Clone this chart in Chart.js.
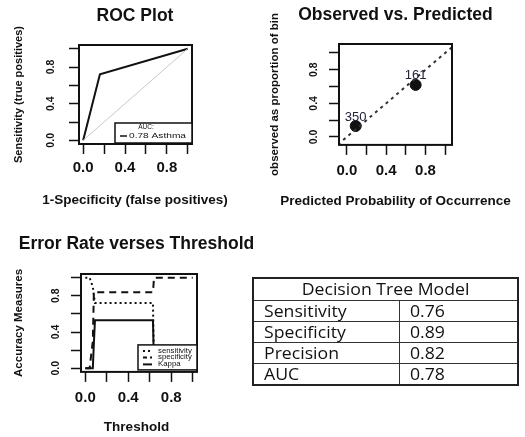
<!DOCTYPE html>
<html><head><meta charset="utf-8">
<script src="https://cdn.jsdelivr.net/npm/chart.js@4.4.1/dist/chart.umd.min.js"></script>
<style>
html,body{margin:0;padding:0;background:#fff;overflow:hidden;width:525px;height:437px}
.pane{position:absolute}
.pane canvas{display:block}
#tbl{position:absolute;left:252px;top:277px;width:267px;border-collapse:collapse;font-family:'Open Sans',sans-serif;font-size:15.5px;color:#111;border:2px solid #222}
#tbl td{border:1.5px solid #333;padding:0 0 0 10px;height:20px;line-height:19px;white-space:nowrap}
#tbl td.h{text-align:center;padding:0;height:21px}
#tbl td span{display:inline-block;transform:scaleX(1.14);transform-origin:left center}
#tbl td.h span{transform-origin:center center}
</style></head><body>
<div class="pane" style="left:0;top:0"><canvas id="roc" width="270" height="215"></canvas></div>
<div class="pane" style="left:266px;top:0"><canvas id="ovp" width="259" height="215"></canvas></div>
<div class="pane" style="left:0;top:225px"><canvas id="err" width="273" height="212"></canvas></div>
<table id="tbl"></table>
<script>
// ---- data ----
const axisTicks = [0, 0.2, 0.4, 0.6, 0.8, 1.0];
const axisTickLabels = ['0.0', '', '0.4', '', '0.8', ''];

const rocFpr = [0, 0.16, 1];
const rocTpr = [0, 0.72, 1];
const chanceFpr = [0, 1];
const chanceTpr = [0, 1];
const rocLegendTitle = 'AUC:';
const rocLegendLabel = '0.78 Asthma';

const predicted = [0.09, 0.70];
const observed = [0.13, 0.62];
const observedLow = [0.10, 0.57];
const observedHigh = [0.16, 0.67];
const binCounts = ['350', '161'];
const identityX = [-0.2, 1.2];
const identityY = [-0.2, 1.2];

const thresholds  = [0.00, 0.04, 0.07, 0.08, 0.09, 0.63, 0.64, 1.00];
const sensitivity = [1.00, 1.00, 0.90, 0.80, 0.72, 0.72, 0.00, 0.00];
const specificity = [0.00, 0.00, 0.30, 0.84, 0.84, 0.84, 1.00, 1.00];
const kappa       = [0.00, 0.00, 0.00, 0.28, 0.53, 0.53, 0.00, 0.00];
const errLegendLabels = ['sensitivity', 'specificity', 'Kappa'];

const tableTitle = 'Decision Tree Model';
const metricNames = ['Sensitivity', 'Specificity', 'Precision', 'AUC'];
const metricValues = ['0.76', '0.89', '0.82', '0.78'];

// ---- helpers ----
const FAM = "'Liberation Sans', Arial, sans-serif";
const INK = '#111';
Chart.defaults.font.family = FAM;
Chart.defaults.color = INK;

function pts(xs, ys) { return xs.map((x, i) => ({x: x, y: ys[i]})); }

function makeScales(c) {
  return {
    x: {
      type: 'linear', min: c.xMin, max: c.xMax,
      afterBuildTicks: s => { s.ticks = axisTicks.map(v => ({value: v})); },
      afterFit: s => { s.height = c.xH; },
      border: {display: false},
      grid: {drawOnChartArea: false, drawTicks: true, tickLength: 10, tickWidth: 1.5, tickColor: INK},
      ticks: {autoSkip: false, minRotation: 0, maxRotation: 0, padding: c.xTickPad, color: INK,
              font: {family: FAM, size: 15, weight: 'bold'}, callback: (v, i) => axisTickLabels[i]},
      title: {display: false}
    },
    y: {
      type: 'linear', min: c.yMin, max: c.yMax,
      afterBuildTicks: s => { s.ticks = axisTicks.map(v => ({value: v})); },
      afterFit: s => { s.width = c.yW; },
      border: {display: false},
      grid: {drawOnChartArea: false, drawTicks: true, tickLength: 10, tickWidth: 1.5, tickColor: INK},
      ticks: {autoSkip: false, minRotation: 90, maxRotation: 90, crossAlign: 'center', padding: c.yTickPad, color: INK,
              font: {family: FAM, size: 10.5, weight: 'bold'}, callback: (v, i) => axisTickLabels[i]},
      title: {display: true, text: c.yTitle, color: INK, font: {family: FAM, size: c.yTitleSize, weight: 'bold'},
              padding: {top: c.yTitlePad, bottom: 0}}
    },
    pad: {
      type: 'linear', position: 'right', display: true,
      afterFit: s => { s.width = c.padR; },
      border: {display: false}, grid: {display: false, drawTicks: false}, ticks: {display: false}
    }
  };
}

function titleOpts(text, top, bottom) {
  return {display: true, text: text, color: INK, font: {family: FAM, size: 17.5, weight: 'bold', lineHeight: 1.2},
          padding: {top: top, bottom: bottom}};
}
function xTitleOpts(text, bottom) {
  return {display: true, position: 'bottom', text: text, color: INK,
          font: {family: FAM, size: 13.5, weight: 'bold', lineHeight: 1.2}, padding: {top: 0, bottom: bottom}};
}

const rBox = {
  id: 'rBox',
  afterDatasetsDraw(chart) {
    const {ctx, chartArea: a} = chart;
    ctx.save();
    ctx.strokeStyle = INK; ctx.lineWidth = 2;
    ctx.strokeRect(a.left, a.top, a.right - a.left, a.bottom - a.top);
    ctx.restore();
  }
};

const rLegend = {
  id: 'rLegend',
  afterDraw(chart, args, o) {
    if (!o || !o.items) return;
    const {ctx, chartArea: a} = chart;
    ctx.save();
    ctx.beginPath(); ctx.rect(a.left, a.top, a.right - a.left + 1, a.bottom - a.top + 1); ctx.clip();
    const r = a.right - o.insetRight, b = a.bottom - o.insetBottom, l = r - o.w, t = b - o.h;
    ctx.fillStyle = '#fff'; ctx.fillRect(l, t, o.w, o.h);
    ctx.lineWidth = 1.5; ctx.strokeStyle = INK; ctx.strokeRect(l, t, o.w, o.h);
    ctx.fillStyle = INK; ctx.textBaseline = 'middle';
    if (o.title) {
      ctx.font = o.titleSize + 'px ' + FAM; ctx.textAlign = 'center';
      ctx.fillText(o.title, l + o.titleX, t + o.titleY);
    }
    ctx.font = o.fontSize + 'px ' + FAM;
    o.items.forEach((it, i) => {
      const y = t + o.rowY[i];
      ctx.setLineDash(it.dash || []); ctx.lineWidth = it.width;
      ctx.beginPath(); ctx.moveTo(l + o.lineX0, y); ctx.lineTo(l + o.lineX1, y); ctx.stroke();
      ctx.setLineDash([]);
      ctx.save();
      ctx.translate(l + o.textX, y); ctx.scale(o.stretch, 1);
      ctx.textAlign = 'left'; ctx.fillText(it.label, 0, 0);
      ctx.restore();
    });
    ctx.restore();
  }
};

const countLabels = {
  id: 'countLabels',
  afterDatasetsDraw(chart) {
    const ctx = chart.ctx;
    const meta = chart.getDatasetMeta(2);
    ctx.save();
    ctx.font = '13px ' + FAM; ctx.fillStyle = '#22223a'; ctx.textAlign = 'center'; ctx.textBaseline = 'middle';
    meta.data.forEach((el, i) => { ctx.fillText(binCounts[i], el.x, el.y - 9); });
    ctx.restore();
  }
};

const base = {responsive: false, animation: false, devicePixelRatio: 1, layout: {padding: 0}};

// ---- ROC ----
new Chart(document.getElementById('roc'), {
  type: 'scatter',
  data: {datasets: [
    {data: pts(chanceFpr, chanceTpr), showLine: true, borderColor: '#c8c8c8', borderWidth: 1, pointRadius: 0},
    {data: pts(rocFpr, rocTpr), showLine: true, borderColor: INK, borderWidth: 2, pointRadius: 0}
  ]},
  options: Object.assign({}, base, {
    scales: makeScales({xMin: -0.04, xMax: 1.04, yMin: -0.04, yMax: 1.04, xH: 47.8, yW: 79, padR: 78,
      xTickPad: 5, yTickPad: 10.3, yTitlePad: 12.4, yTitleSize: 11,
      yTitle: 'Sensitivity (true positives)'}),
    plugins: {legend: {display: false}, tooltip: {enabled: false},
      title: titleOpts('ROC Plot', 5.5, 18.5),
      subtitle: xTitleOpts('1-Specificity (false positives)', 7),
      rLegend: {w: 77, h: 20, insetRight: 0, insetBottom: 1, fontSize: 7, titleSize: 6.5, stretch: 1.45,
        title: rocLegendTitle, titleX: 31, titleY: 4.5,
        rowY: [13], lineX0: 5, lineX1: 12, textX: 14,
        items: [{label: rocLegendLabel, dash: [], width: 1.5}]}}
  }),
  plugins: [rBox, rLegend]
});

// ---- Observed vs Predicted ----
const ciPts = [];
predicted.forEach((p, i) => { ciPts.push({x: p, y: observedLow[i]}, {x: p, y: observedHigh[i]}, {x: p, y: null}); });
new Chart(document.getElementById('ovp'), {
  type: 'scatter',
  data: {datasets: [
    {data: pts(identityX, identityY), showLine: true, borderColor: '#333', borderWidth: 2, borderDash: [3, 4], pointRadius: 0},
    {data: ciPts, showLine: true, spanGaps: false, borderColor: INK, borderWidth: 2, pointRadius: 0},
    {data: pts(predicted, observed), pointRadius: 5.5, pointBackgroundColor: INK, pointBorderColor: INK, pointBorderWidth: 1}
  ]},
  options: Object.assign({}, base, {
    scales: makeScales({xMin: -0.08, xMax: 1.07, yMin: -0.095, yMax: 1.107, xH: 47.9, yW: 73, padR: 73,
      xTickPad: 6.5, yTickPad: 7.3, yTitlePad: 2.1, yTitleSize: 11.5,
      yTitle: 'observed as proportion of bin'}),
    plugins: {legend: {display: false}, tooltip: {enabled: false},
      title: titleOpts('Observed vs. Predicted', 5, 18),
      subtitle: xTitleOpts('Predicted Probability of Occurrence', 6)}
  }),
  plugins: [rBox, countLabels]
});

// ---- Error rate vs threshold ----
new Chart(document.getElementById('err'), {
  type: 'scatter',
  data: {datasets: [
    {data: pts(thresholds, sensitivity), showLine: true, borderColor: INK, borderWidth: 2, borderDash: [2, 3], pointRadius: 0},
    {data: pts(thresholds, specificity), showLine: true, borderColor: INK, borderWidth: 2, borderDash: [7, 5], pointRadius: 0},
    {data: pts(thresholds, kappa), showLine: true, borderColor: INK, borderWidth: 2, pointRadius: 0}
  ]},
  options: Object.assign({}, base, {
    scales: makeScales({xMin: -0.04, xMax: 1.04, yMin: -0.04, yMax: 1.04, xH: 47.4, yW: 81, padR: 76,
      xTickPad: 7, yTickPad: 7.3, yTitlePad: 12.1, yTitleSize: 11.5,
      yTitle: 'Accuracy Measures'}),
    plugins: {legend: {display: false}, tooltip: {enabled: false},
      title: titleOpts('Error Rate verses Threshold', 8.5, 19.5),
      subtitle: xTitleOpts('Threshold', 1.5),
      rLegend: {w: 59, h: 25, insetRight: 0, insetBottom: 2, fontSize: 6.5, titleSize: 6.5, stretch: 1.2,
        title: '', titleX: 0, titleY: 0,
        rowY: [6, 12.5, 19.5], lineX0: 5, lineX1: 14, textX: 20,
        items: [
          {label: errLegendLabels[0], dash: [2, 3], width: 2},
          {label: errLegendLabels[1], dash: [4, 3], width: 2},
          {label: errLegendLabels[2], dash: [], width: 2}
        ]}}
  }),
  plugins: [rBox, rLegend]
});

// ---- table ----
const tbl = document.getElementById('tbl');
let html = '<tr><td class="h" colspan="2"><span>' + tableTitle + '</span></td></tr>';
metricNames.forEach((n, i) => {
  html += '<tr><td style="width:135px"><span>' + n + '</span></td><td><span>' + metricValues[i] + '</span></td></tr>';
});
tbl.innerHTML = html;
</script>
</body></html>
